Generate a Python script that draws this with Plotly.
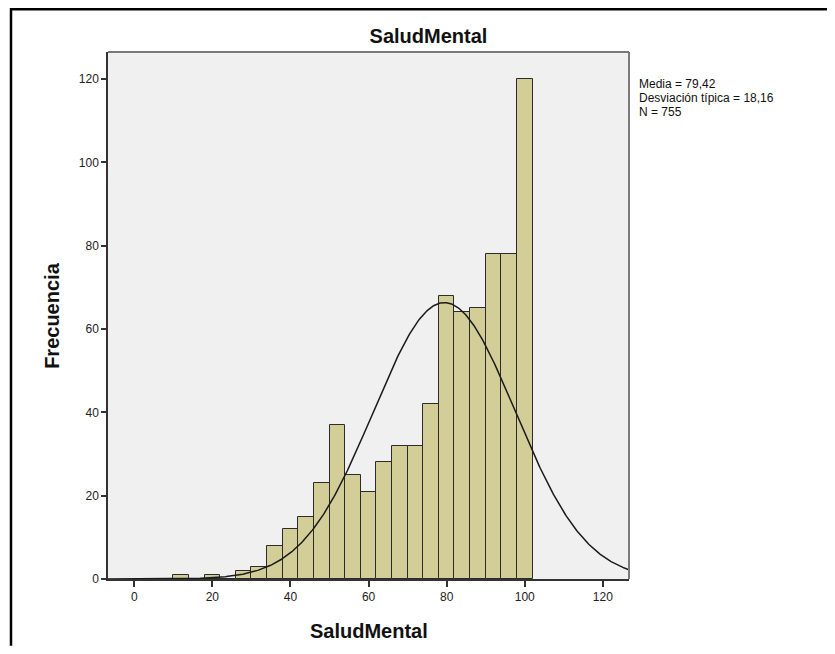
import numpy as np
import plotly.graph_objects as go

# ---- data ----
bin_centers = [12, 16, 20, 24, 28, 32, 36, 40, 44, 48, 52, 56, 60, 64, 68, 72, 76, 80, 84, 88, 92, 96, 100]
frequencies = [1, 0, 1, 0, 2, 3, 8, 12, 15, 23, 37, 25, 21, 28, 32, 32, 42, 68, 64, 65, 78, 78, 120]
bin_width = 4
media = 79.42
desviacion = 18.16
n_total = 755
stats_lines = ["Media = 79,42", "Desviación típica = 18,16", "N = 755"]
x_ticks = [0, 20, 40, 60, 80, 100, 120]
y_ticks = [0, 20, 40, 60, 80, 100, 120]
x_range = [-6.73, 126.7]
y_range = [0, 126.5]

FONT = "Liberation Sans, Arial, sans-serif"

# page body has an 8px margin: figure sized/placed so the plot area lands where the reference has it
OFF = 8
W, H = 835 - OFF, 654 - 2 * OFF
PL, PR, PT, PB = 108, 629, 52, 579.3  # plot area in screen pixels
PW, PH = PR - PL, PB - PT

def px_x(x):
    return (x - PL) / PW

def px_y(y):
    return (PB - y) / PH

# normal curve scaled to the histogram (N * bin width * pdf)
xc = np.linspace(x_range[0], x_range[1], 600)
yc = n_total * bin_width * np.exp(-0.5 * ((xc - media) / desviacion) ** 2) / (desviacion * np.sqrt(2 * np.pi))

fig = go.Figure()
fig.add_trace(go.Bar(
    x=bin_centers, y=frequencies, width=[bin_width] * len(bin_centers),
    marker=dict(color="#d3ce98", line=dict(color="#2b2b2b", width=1)),
    hoverinfo="x+y", showlegend=False,
))
fig.add_trace(go.Scatter(
    x=xc, y=yc, mode="lines", line=dict(color="#1a1a1a", width=1.5),
    hoverinfo="skip", showlegend=False,
))

stat_ys = [84, 98, 112]
stat_ann = [
    dict(text=t, xref="paper", yref="paper", x=px_x(637), y=px_y(yy),
         xanchor="left", yanchor="middle", showarrow=False,
         font=dict(family=FONT, size=12, color="#111111"))
    for t, yy in zip(stats_lines, stat_ys)
]

fig.update_layout(
    width=W, height=H,
    margin=dict(l=PL - OFF, r=W - (PR - OFF), t=PT - OFF, b=H - (PB - OFF), pad=0),
    paper_bgcolor="white", plot_bgcolor="#f0f0f0",
    bargap=0,
    font=dict(family=FONT, size=12, color="#222222"),
    title=dict(text="<b>SaludMental</b>", font=dict(family=FONT, size=20, color="#111111"),
               x=px_x(428.5), xref="paper", xanchor="center",
               y=1 - (36 - OFF) / H, yref="container", yanchor="middle"),
    xaxis=dict(range=x_range, tickvals=x_ticks, ticktext=[str(v) for v in x_ticks],
               showgrid=False, zeroline=False, showline=True, linecolor="#333333", linewidth=1.5,
               ticks="outside", ticklen=6, tickwidth=1.5, tickcolor="#333333",
               tickfont=dict(family=FONT, size=12, color="#222222")),
    yaxis=dict(range=y_range, tickvals=y_ticks, ticktext=[str(v) for v in y_ticks],
               showgrid=False, zeroline=False, showline=True, linecolor="#333333", linewidth=1.5,
               ticks="outside", ticklen=5, tickwidth=1.5, tickcolor="#333333",
               tickfont=dict(family=FONT, size=12, color="#222222")),
    shapes=[
        # top and right frame of the plot area
        dict(type="line", xref="paper", yref="paper", x0=0, x1=1, y0=1, y1=1,
             line=dict(color="#7a7a7a", width=2)),
        dict(type="line", xref="paper", yref="paper", x0=1, x1=1, y0=0, y1=1,
             line=dict(color="#7a7a7a", width=2)),
        # outer chart border (only left and top edges visible in the reference)
        dict(type="line", xref="paper", yref="paper",
             x0=px_x(11), x1=px_x(11), y0=px_y(OFF + H), y1=px_y(8),
             line=dict(color="black", width=2.5), layer="above"),
        dict(type="line", xref="paper", yref="paper",
             x0=px_x(10), x1=px_x(OFF + W), y0=px_y(9.2), y1=px_y(9.2),
             line=dict(color="black", width=2.5), layer="above"),
    ],
    annotations=[
        dict(text="<b>SaludMental</b>", xref="paper", yref="paper",
             x=0.5, y=px_y(631), xanchor="center", yanchor="middle",
             showarrow=False, font=dict(family=FONT, size=20, color="#111111")),
        dict(text="<b>Frecuencia</b>", xref="paper", yref="paper", textangle=-90,
             x=px_x(52), y=px_y(316), xanchor="center", yanchor="middle",
             showarrow=False, font=dict(family=FONT, size=20, color="#111111")),
    ] + stat_ann,
)

fig.write_html("out.html")
